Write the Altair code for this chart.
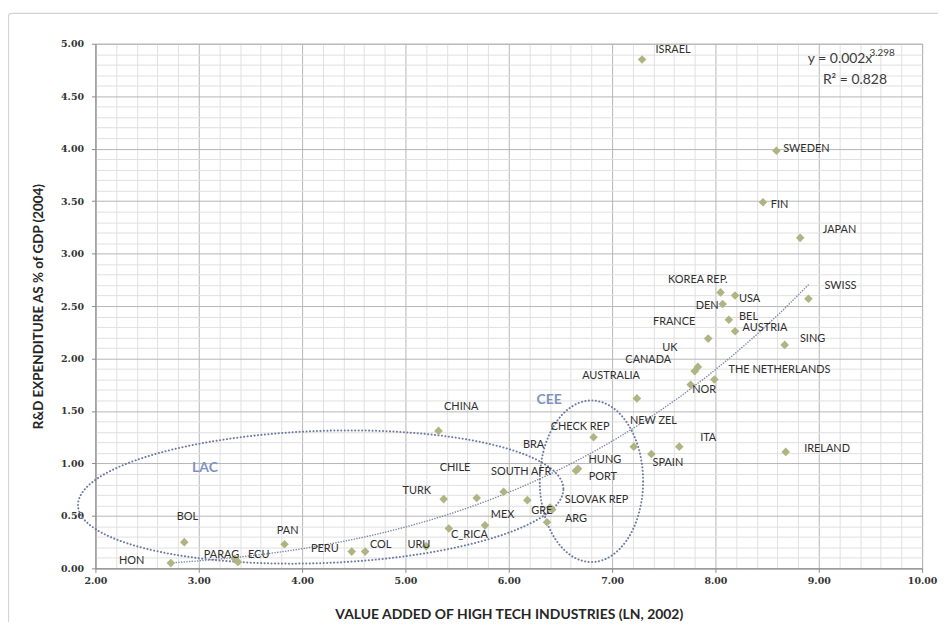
import altair as alt
import numpy as np
import pandas as pd

# ---- data ----
countries = ["ISRAEL", "SWEDEN", "FIN", "JAPAN", "KOREA REP.", "USA", "DEN", "SWISS",
             "BEL", "AUSTRIA", "FRANCE", "SING", "UK", "CANADA", "THE NETHERLANDS",
             "NOR", "AUSTRALIA", "CHECK REP", "NEW ZEL", "ITA", "SPAIN", "IRELAND",
             "HUNG", "PORT", "CHINA", "TURK", "CHILE", "SOUTH AFR", "BRA", "SLOVAK REP",
             "GRE", "ARG", "MEX", "C_RICA", "URU", "COL", "PERU", "PAN", "ECU", "PARAG",
             "BOL", "HON"]
value_added = [7.29, 8.59, 8.46, 8.82, 8.05, 8.19, 8.07, 8.90,
               8.13, 8.19, 7.93, 8.67, 7.83, 7.80, 7.99,
               7.76, 7.24, 6.82, 7.21, 7.65, 7.38, 8.68,
               6.67, 6.65, 5.32, 5.37, 5.69, 5.95, 6.18, 6.42,
               6.40, 6.37, 5.77, 5.42, 5.20, 4.61, 4.48, 3.83, 3.38, 3.35,
               2.86, 2.73]
rd_expenditure = [4.85, 3.98, 3.49, 3.15, 2.63, 2.60, 2.52, 2.57,
                  2.37, 2.26, 2.19, 2.13, 1.92, 1.88, 1.80,
                  1.75, 1.62, 1.25, 1.16, 1.16, 1.09, 1.11,
                  0.95, 0.93, 1.31, 0.66, 0.67, 0.73, 0.65, 0.56,
                  0.58, 0.44, 0.41, 0.38, 0.21, 0.16, 0.16, 0.23, 0.06, 0.09,
                  0.25, 0.05]
# where each country's label sits (data units)
label_x = [7.59, 8.88, 8.62, 9.20, 7.83, 8.33, 7.92, 9.21,
           8.32, 8.48, 7.60, 8.94, 7.56, 7.35, 8.62,
           7.89, 6.99, 6.69, 7.40, 7.93, 7.54, 9.08,
           6.93, 6.91, 5.54, 5.11, 5.48, 6.12, 6.24, 6.85,
           6.32, 6.65, 5.94, 5.62, 5.13, 4.76, 4.22, 3.86, 3.58, 3.22,
           2.89, 2.35]
label_y = [4.94, 4.00, 3.46, 3.22, 2.75, 2.57, 2.50, 2.69,
           2.40, 2.29, 2.35, 2.19, 2.10, 1.99, 1.89,
           1.70, 1.83, 1.35, 1.40, 1.24, 1.00, 1.14,
           1.03, 0.87, 1.54, 0.74, 0.96, 0.92, 1.18, 0.65,
           0.55, 0.47, 0.51, 0.32, 0.22, 0.22, 0.18, 0.36, 0.13, 0.13,
           0.49, 0.07]

groups = ["LAC", "CEE"]
group_x = [3.06, 6.39]
group_y = [0.96, 1.60]

# group ellipses: centre x, centre y, half-width, half-height, tilt (deg)
ell_name = ["LAC", "CEE"]
ell_cx = [4.18, 6.80]
ell_cy = [0.68, 0.83]
ell_a = [2.35, 0.50]
ell_b = [0.63, 0.77]
ell_rot = [2.0, 0.0]

eq_text = ["y = 0.002x", "3.298", "R\u00b2 = 0.828"]
eq_x = [8.894, 9.49, 9.04]
eq_y = [4.856, 4.91, 4.65]

x_ticks = [round(2 + 0.2 * i, 1) for i in range(41)]
y_ticks = [round(0.1 * i, 1) for i in range(51)]

# ---- tables ----
pts = pd.DataFrame({"name": countries, "x": value_added, "y": rd_expenditure})
labs = pd.DataFrame({"name": countries, "x": label_x, "y": label_y})
grp = pd.DataFrame({"name": groups, "x": group_x, "y": group_y})
eq = pd.DataFrame({"t": eq_text, "x": eq_x, "y": eq_y,
                   "fs": [14, 10, 14]})

rows = []
t = np.linspace(0, 2 * np.pi, 241)
for n, cx, cy, a, b, r in zip(ell_name, ell_cx, ell_cy, ell_a, ell_b, ell_rot):
    th = np.radians(r)
    ex = cx + a * np.cos(t) * np.cos(th) - b * np.sin(t) * np.sin(th)
    ey = cy + a * np.cos(t) * np.sin(th) + b * np.sin(t) * np.cos(th)
    for i, (xx, yy) in enumerate(zip(ex, ey)):
        rows.append({"grp": n, "i": i, "x": float(xx), "y": float(yy)})
ell = pd.DataFrame(rows)

# ---- axes ----
MAJOR_GRID = "#b5b5b5"
MINOR_GRID = "#e0e0e0"
xmajor = "abs(datum.value - round(datum.value)) < 1e-6"
ymajor = "abs(datum.value * 2 - round(datum.value * 2)) < 1e-6"

xaxis = alt.Axis(
    values=x_ticks, grid=True,
    gridColor={"condition": {"test": xmajor, "value": MAJOR_GRID}, "value": MINOR_GRID},
    tickColor={"condition": {"test": xmajor, "value": "#8a8a8a"}, "value": "transparent"},
    labelExpr=f"({xmajor}) ? format(datum.value, '.2f') : ''",
    labelOverlap=False, labelFlush=False, tickSize=4, labelPadding=3,
    labelFont="DejaVu Serif", labelFontWeight="bold", labelFontSize=9.5, labelColor="#333333",
    domainColor="#8a8a8a",
    title="VALUE ADDED OF HIGH TECH INDUSTRIES (LN, 2002)",
    titleFont="Lato", titleFontWeight="bold", titleFontSize=14, titleColor="#262626",
    titlePadding=23,
)
yaxis = alt.Axis(
    values=y_ticks, grid=True,
    gridColor={"condition": {"test": ymajor, "value": MAJOR_GRID}, "value": MINOR_GRID},
    tickColor={"condition": {"test": ymajor, "value": "#8a8a8a"}, "value": "transparent"},
    labelExpr=f"({ymajor}) ? format(datum.value, '.2f') : ''",
    labelOverlap=False, labelFlush=False, tickSize=4, labelPadding=8,
    labelFont="DejaVu Serif", labelFontWeight="bold", labelFontSize=9.5, labelColor="#333333",
    domainColor="#8a8a8a",
    title="R&D EXPENDITURE AS % of GDP (2004)",
    titleFont="Lato", titleFontWeight="bold", titleFontSize=13.5, titleColor="#262626",
    titlePadding=15,
)
xs = alt.Scale(domain=[2, 10], nice=False, zero=False)
ys = alt.Scale(domain=[0, 5], nice=False, zero=False)
X = alt.X("x:Q", scale=xs, axis=xaxis)
Y = alt.Y("y:Q", scale=ys, axis=yaxis)

frame = alt.Chart(pd.DataFrame({"k": [0]})).mark_rect(
    fill=None, stroke="#d4d4d4", strokeWidth=1.2, cornerRadius=3
).encode(x=alt.value(-87.5), x2=alt.value(900), y=alt.value(-30.5), y2=alt.value(700))

ellipses = alt.Chart(ell).mark_line(
    color="#6c7aa3", strokeWidth=2.0, strokeDash=[0.1, 3.4], strokeCap="round"
).encode(x=X, y=Y, detail="grp:N", order="i:Q")

trend = alt.Chart(pts).transform_regression(
    "x", "y", method="pow"
).mark_line(color="#7f87a6", strokeWidth=1.5, strokeDash=[0.1, 2.6], strokeCap="round").encode(x=X, y=Y)

points = alt.Chart(pts).mark_point(
    shape="diamond", filled=True, size=75, color="#b0b483", opacity=1
).encode(x=X, y=Y)

labels = alt.Chart(labs).mark_text(
    font="Lato", fontSize=11, color="#2e2e2e", align="center", baseline="middle"
).encode(x=X, y=Y, text="name:N")

group_labels = alt.Chart(grp).mark_text(
    font="Lato", fontSize=14, fontWeight="bold", color="#7d93bf", align="center", baseline="middle"
).encode(x=X, y=Y, text="name:N")

equation = alt.Chart(eq).mark_text(
    font="Lato", color="#3a3a3a", align="left", baseline="middle"
).encode(x=X, y=Y, text="t:N", size=alt.Size("fs:Q", scale=None, legend=None))

chart = alt.layer(
    frame, ellipses, trend, points, labels, group_labels, equation
).properties(
    width=832, height=528,
    autosize=alt.AutoSizeParams(type="none"),
    padding={"left": 88, "top": 34, "right": 16, "bottom": 52},
    background="white",
).configure_view(stroke="#b0b0b0", strokeWidth=1)

chart.save("out.html", embed_options={"renderer": "svg", "actions": False})
